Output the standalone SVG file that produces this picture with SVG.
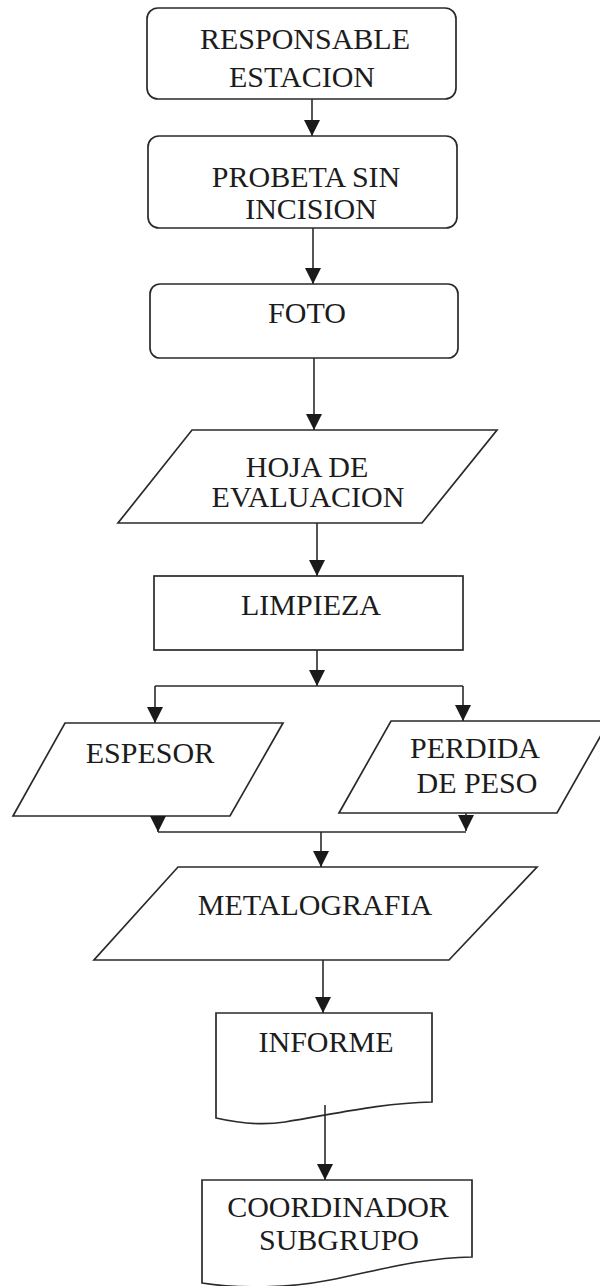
<svg xmlns="http://www.w3.org/2000/svg" width="600" height="1286" viewBox="0 0 600 1286">
<defs>
<style>
.s{fill:#fff;stroke:#2a2a2a;stroke-width:1.7}
.c{fill:none;stroke:#2a2a2a;stroke-width:1.6}
.t{font-family:"Liberation Serif","Times New Roman",serif;font-size:30px;fill:#1c1c1c;text-anchor:middle}
</style>
<marker id="ah" markerUnits="userSpaceOnUse" markerWidth="16" markerHeight="17" refX="16" refY="8" orient="auto" viewBox="0 0 16 16">
<path d="M0,0 L16,8 L0,16 Z" fill="#1a1a1a"/>
</marker>
</defs>
<rect width="600" height="1286" fill="#fff"/>
<g id="n1">
<rect class="s" x="147" y="8" width="309" height="91" rx="11"/>
<text class="t" x="305" y="49">RESPONSABLE</text>
<text class="t" x="302" y="87">ESTACION</text>
</g>
<g id="n2">
<rect class="s" x="148" y="136" width="309" height="92" rx="11"/>
<text class="t" x="306" y="187">PROBETA SIN</text>
<text class="t" x="311" y="219">INCISION</text>
</g>
<g id="n3">
<rect class="s" x="150" y="284" width="308" height="74" rx="10"/>
<text class="t" x="307" y="323">FOTO</text>
</g>
<g id="n4">
<polygon class="s" points="192,430 497,430 422,523 118,523"/>
<text class="t" x="307" y="477">HOJA DE</text>
<text class="t" x="308" y="507">EVALUACION</text>
</g>
<g id="n5">
<rect class="s" x="154" y="576" width="309" height="74"/>
<text class="t" x="311" y="615">LIMPIEZA</text>
</g>
<g id="n6">
<polygon class="s" points="65,723 283,723 230,816 13,816"/>
<text class="t" x="150" y="763">ESPESOR</text>
</g>
<g id="n7">
<polygon class="s" points="391,721 609,721 557,813 339,813"/>
<text class="t" x="475" y="758">PERDIDA</text>
<text class="t" x="477" y="793">DE PESO</text>
</g>
<g id="n8">
<polygon class="s" points="178,867 537,867 449,960 94,960"/>
<text class="t" x="315" y="915">METALOGRAFIA</text>
</g>
<g id="n9">
<path class="s" d="M216,1013 H432 V1102 C380,1103 335,1114 285,1122 C260,1126 238,1123 216,1118 Z"/>
<text class="t" x="326" y="1052">INFORME</text>
</g>
<g id="n10">
<path class="s" d="M202,1180 H472 V1257 C420,1258 380,1270 330,1280 C290,1288 240,1289 202,1283 Z"/>
<text class="t" x="338" y="1217">COORDINADOR</text>
<text class="t" x="339" y="1250">SUBGRUPO</text>
</g>
<g id="connectors">
<path class="c" d="M312,99 V136" marker-end="url(#ah)"/>
<path class="c" d="M313,228 V284" marker-end="url(#ah)"/>
<path class="c" d="M314,358 V430" marker-end="url(#ah)"/>
<path class="c" d="M317,523 V576" marker-end="url(#ah)"/>
<path class="c" d="M317,650 V686" marker-end="url(#ah)"/>
<path class="c" d="M155,686 H463"/>
<path class="c" d="M155,686 V723" marker-end="url(#ah)"/>
<path class="c" d="M463,686 V721" marker-end="url(#ah)"/>
<path class="c" d="M158,816 V832" marker-end="url(#ah)"/>
<path class="c" d="M466,813 V831" marker-end="url(#ah)"/>
<path class="c" d="M158,832 H466"/>
<path class="c" d="M321,832 V867" marker-end="url(#ah)"/>
<path class="c" d="M323,960 V1013" marker-end="url(#ah)"/>
<path class="c" d="M325,1105 V1180" marker-end="url(#ah)"/>
</g>
</svg>
